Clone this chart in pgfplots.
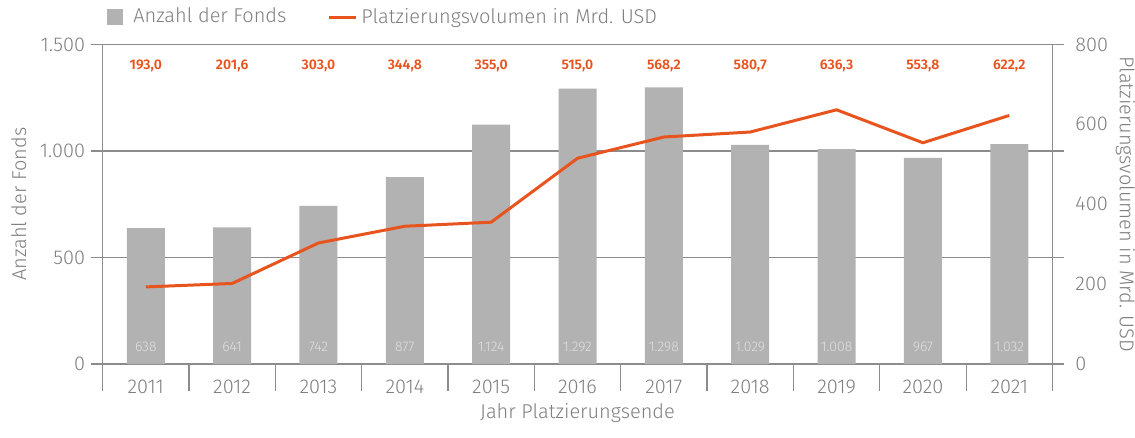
\documentclass[border=0pt]{standalone}
\usepackage{fontspec}
\setmainfont{Fira Sans}[UprightFont=* Light, BoldFont=* SemiBold]
\usepackage{pgfplots}
\pgfplotsset{compat=1.18}
\definecolor{bargray}{HTML}{B2B2B2}
\definecolor{axgray}{HTML}{8C8C8C}
\definecolor{txtgray}{HTML}{7F7F7F}
\definecolor{oorange}{HTML}{E8541E}

\begin{document}
\begin{tikzpicture}

% bars: Anzahl der Fonds (left scale)
\begin{axis}[
    scale only axis,
    width=475.5pt, height=160pt,
    xmin=-0.5, xmax=10.5,
    ymin=0, ymax=1500,
    xtick={-0.5,0.5,...,10.5},
    x tick label as interval,
    xticklabels={2011,2012,2013,2014,2015,2016,2017,2018,2019,2020,2021},
    xtick pos=bottom,
    ytick={0,500,1000,1500},
    ytick pos=both,
    yticklabel pos=left,
    tick align=outside,
    xtick style={/pgfplots/major tick length=13.5pt},
    ytick style={/pgfplots/major tick length=6pt},
    ymajorgrids,
    grid style={axgray, line width=0.6pt},
    axis line style={axgray, line width=0.6pt},
    tick style={axgray, line width=0.6pt},
    every tick label/.append style={txtgray, font=\fontsize{10}{12}\selectfont},
    yticklabel style={xshift=-1pt},
    /pgf/number format/.cd, use comma, 1000 sep={.}, assume math mode=true,
    /pgfplots/.cd,
    ylabel={Anzahl der Fonds},
    ylabel shift=-2.3pt,
    xlabel={Jahr Platzierungsende},
    label style={txtgray, font=\fontsize{10}{12}\selectfont},
    ylabel style={inner ysep=5.6pt},
    xlabel style={yshift=2pt, text depth=6.5pt},
    legend columns=2,
    legend style={draw=none, fill=none, at={(rel axis cs:0,1)}, anchor=south west,
        yshift=5pt, xshift=-1pt, font=\fontsize{10}{12}\selectfont, text=txtgray,
        /tikz/every even column/.append style={column sep=18.5pt}},
]
\addlegendimage{legend image code/.code={
    \fill[bargray] (0pt,-3.5pt) rectangle (7.5pt,4pt);
    \path[draw=none] (0pt,0pt) -- (11pt,0pt);}}
\addlegendentry{Anzahl der Fonds}
\addlegendimage{legend image code/.code={
    \draw[oorange, line width=1.5pt] (0pt,0pt) -- (13.5pt,0pt);}}
\addlegendentry{Platzierungsvolumen in Mrd. USD}

\addplot[ybar, bar width=0.44, fill=bargray, draw=none, forget plot] coordinates {
    (0,638) (1,641) (2,742) (3,877) (4,1124) (5,1292)
    (6,1298) (7,1029) (8,1008) (9,967) (10,1032)
};

% value labels inside the bars
\addplot[draw=none, forget plot, nodes near coords, point meta=explicit symbolic,
    nodes near coords style={anchor=center, color=white!88!black,
        font=\fontsize{7}{8}\selectfont}]
    table[meta=lab] {
x y lab
0 80 638
1 80 641
2 80 742
3 80 877
4 80 1.124
5 80 1.292
6 80 1.298
7 80 1.029
8 80 1.008
9 80 967
10 80 1.032
};

% volume labels across the top
\addplot[draw=none, forget plot, nodes near coords, point meta=explicit symbolic,
    nodes near coords style={anchor=center, color=oorange,
        font=\bfseries\fontsize{7}{8}\selectfont}]
    table[meta=lab] {
x y lab
0 1397 193,0
1 1397 201,6
2 1397 303,0
3 1397 344,8
4 1397 355,0
5 1397 515,0
6 1397 568,2
7 1397 580,7
8 1397 636,3
9 1397 553,8
10 1397 622,2
};
\end{axis}

% line: Platzierungsvolumen (right scale)
\begin{axis}[
    scale only axis,
    width=475.5pt, height=160pt,
    xmin=-0.5, xmax=10.5,
    ymin=0, ymax=800,
    axis x line=none,
    axis y line*=right,
    axis line style={draw=none},
    ytick={0,200,400,600,800},
    ytick style={draw=none},
    yticklabel style={txtgray, font=\fontsize{10}{12}\selectfont, xshift=8pt},
    /pgf/number format/assume math mode=true,
    ylabel={Platzierungsvolumen in Mrd. USD},
    ylabel shift=0.3pt,
    ylabel style={txtgray, font=\fontsize{10}{12}\selectfont, rotate=180, inner ysep=0pt},
]
\addplot[oorange, line width=1.5pt, mark=none] coordinates {
    (0,193.0) (1,201.6) (2,303.0) (3,344.8) (4,355.0) (5,515.0)
    (6,568.2) (7,580.7) (8,636.3) (9,553.8) (10,622.2)
};
\end{axis}

\end{tikzpicture}
\end{document}
